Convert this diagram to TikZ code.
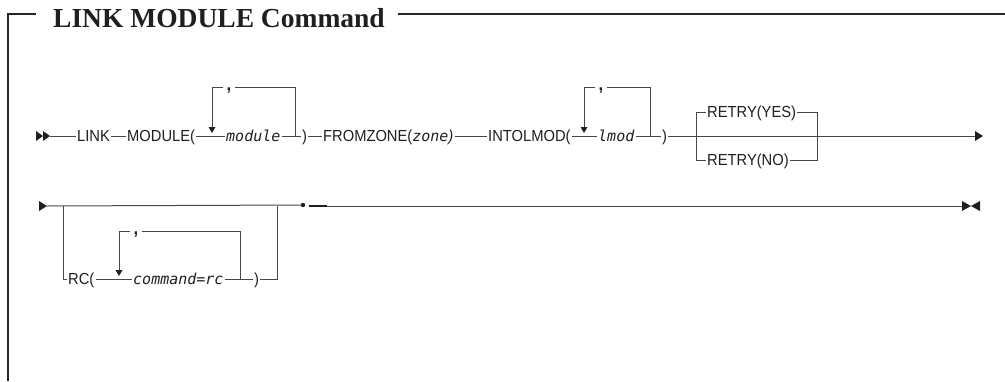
\documentclass[tikz,border=0pt]{standalone}
\usepackage{fontspec}
\newfontfamily\kwfont[FakeStretch=0.92]{Liberation Sans}
\newfontfamily\varfont{DejaVu Sans Mono}
\newfontfamily\titlefont{Liberation Serif}
\newcommand\kwf{\kwfont\fontsize{16}{16}\selectfont}
\newcommand\vf{\varfont\itshape\fontsize{15}{15}\selectfont}
\begin{document}
\begin{tikzpicture}[x=1pt,y=-1pt,
  kw/.style={font=\kwf, inner xsep=1pt, inner ysep=0pt, text height=11.5pt, text depth=0pt, anchor=west, text=black!88},
  var/.style={kw, font=\vf},
  comma/.style={font=\kwfont\bfseries\fontsize{18}{18}\selectfont, inner sep=0pt, anchor=base, text=black!88},
  rail/.style={draw=black!72, line width=1pt},
  tipf/.style={fill=black!88},
  frame/.style={draw=black!85, line width=1.5pt}]
\useasboundingbox (0,0) rectangle (1005,381);
% frame and title
\node[font=\titlefont\bfseries\fontsize{27.5}{27.5}\selectfont, inner sep=0pt, anchor=base west, text=black!88] (title) at (53,27) {LINK MODULE Command};
\coordinate (ftl) at (8,14);
\coordinate (fbl) at (8,381);
\coordinate (ftr) at (1005,14);
\draw[frame] (36,14) -- (ftl) -- (fbl);
\draw[frame] ([xshift=13pt]title.east |- ftl) -- (ftr);
% ---------------- row 1 ----------------
\coordinate (s1) at (50,136);
\fill[tipf] (36,131) -- (43,136) -- (36,141) -- cycle;
\fill[tipf] (43,131) -- (50,136) -- (43,141) -- cycle;
\node[kw] (link) at (76,136) {LINK};
\node[kw] (module) at (126,136) {MODULE(};
\node[var] (modv) at (225,136) {module};
\node[kw] (rp1) at (301,136) {)};
\node[kw] (fz) at (322,136) {FROMZONE(\vf zone\kwf)};
\node[kw] (intol) at (487,136) {INTOLMOD(};
\node[var] (lmod) at (597,136) {lmod};
\node[kw] (rp2) at (661,136) {)};
\node[kw] (yes) at (706,112) {RETRY(YES)};
\node[kw] (no) at (706,160) {RETRY(NO)};
\coordinate (e1) at (975,136);
\fill[tipf] (975,131) -- (983,136) -- (975,141) -- cycle;
\draw[rail] (s1) -- (link.west);
\draw[rail] (link.east) -- (module.west);
\draw[rail] (module.east) -- (modv.west);
\draw[rail] (modv.east) -- (rp1.west);
\draw[rail] (rp1.east) -- (fz.west);
\draw[rail] (fz.east) -- (intol.west);
\draw[rail] (intol.east) -- (lmod.west);
\draw[rail] (lmod.east) -- (rp2.west);
\draw[rail] (rp2.east) -- (e1);
% loop module
\coordinate (l1r) at (295,136);
\node[comma] (c1) at (229,90) {,};
\draw[rail] (l1r) -- (295,87) -- (235,87);
\draw[rail] (223,87) -- (212,87) -- (212,127);
\fill[tipf] (208.5,127) -- (215.5,127) -- (212,133) -- cycle;
% loop lmod
\coordinate (l2r) at (650,136);
\node[comma] (c2) at (601,90) {,};
\draw[rail] (l2r) -- (650,87) -- (607,87);
\draw[rail] (595,87) -- (584,87) -- (584,127);
\fill[tipf] (580.5,127) -- (587.5,127) -- (584,133) -- cycle;
% retry branch
\draw[rail] (yes.west) -- (696,112) -- (696,160) -- (no.west);
\draw[rail] (yes.east) -- (817,112) -- (817,160) -- (no.east);
% ---------------- row 2 ----------------
\coordinate (s2) at (47,206);
\fill[tipf] (39,201) -- (47,206) -- (39,211) -- cycle;
\node[kw] (rc) at (67,279) {RC(};
\node[var] (cmd) at (132,279) {command=rc};
\node[kw] (rp3) at (253,279) {)};
\coordinate (b2l) at (63,206);
\coordinate (b2r) at (277,206);
\coordinate (dotc) at (303,205);
\draw[rail] (s2) -- (dotc);
\draw[rail] (b2l) -- (63,279) -- (rc.west);
\draw[rail] (rc.east) -- (cmd.west);
\draw[rail] (cmd.east) -- (rp3.west);
\draw[rail] (rp3.east) -- (277,279) -- (b2r);
\node[comma] (c3) at (136,234) {,};
\draw[rail] (240,279) -- (240,231) -- (142,231);
\draw[rail] (130,231) -- (119,231) -- (119,270);
\fill[tipf] (115.5,270) -- (122.5,270) -- (119,276) -- cycle;
\fill[black!88] (dotc) circle (2.2);
\draw[draw=black!88, line width=2pt] (309,206) -- (327,206);
\coordinate (e2) at (962,206);
\draw[rail] (327,206) -- (e2);
\fill[tipf] (962,201) -- (971,206) -- (962,211) -- cycle;
\fill[tipf] (980,201) -- (971,206) -- (980,211) -- cycle;
\end{tikzpicture}
\end{document}
